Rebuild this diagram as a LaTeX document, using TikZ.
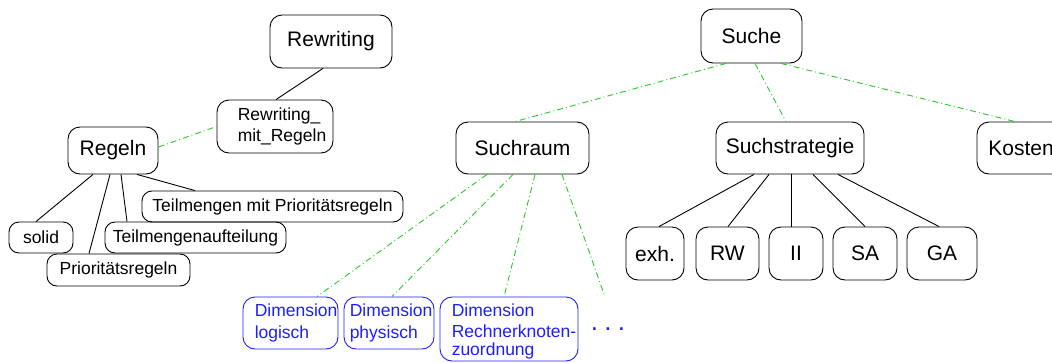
\documentclass[tikz,border=0pt]{standalone}
\usepackage{fontspec}
\setmainfont{Liberation Sans}
\definecolor{linkgreen}{RGB}{40,200,40}
\definecolor{dimblue}{RGB}{30,30,255}
\begin{document}
\begin{tikzpicture}[x=1pt,y=-1pt,
  tbox/.style={draw=black, line width=0.9pt, rounded corners=12pt, inner sep=0pt},
  smallbox/.style={tbox, rounded corners=10pt},
  dimbox/.style={tbox, draw=dimblue},
  bigtext/.style={font=\fontsize{21pt}{25pt}\selectfont},
  smalltext/.style={font=\fontsize{17.5pt}{21.5pt}\selectfont, align=left, inner sep=0pt},
  dimtext/.style={smalltext, text=dimblue},
  solidlink/.style={draw=black, line width=0.9pt},
  dashlink/.style={draw=linkgreen, line width=0.9pt, dash pattern=on 6pt off 3pt on 1pt off 3pt},
]
\useasboundingbox (0,0) rectangle (1052,362);
\clip (0,0) rectangle (1052,362);

% --- Rewriting branch ---
\node[tbox, bigtext, minimum width=122pt, minimum height=53pt] (rew) at (331,41.5) {Rewriting};
\node[tbox, minimum width=116pt, minimum height=53pt] (rmr) at (275,126.5) {};
\node[smalltext, anchor=west] (rmrtext) at ([xshift=21pt]rmr.west) {Rewriting\_\\mit\_Regeln};
\node[tbox, bigtext, minimum width=90pt, minimum height=47pt] (regeln) at (113,150.5) {Regeln};

\node[smallbox, smalltext, minimum width=261pt, minimum height=31pt] (tmp) at (272.5,206.5) {Teilmengen mit Prioritätsregeln};
\node[smallbox, smalltext, minimum width=64pt, minimum height=31pt] (nsolid) at (41,237.5) {solid};
\node[smallbox, smalltext, minimum width=181pt, minimum height=31pt] (tma) at (195.5,237.5) {Teilmengenaufteilung};
\node[smallbox, smalltext, minimum width=143pt, minimum height=32pt] (prio) at (118.5,270) {Prioritätsregeln};

\draw[solidlink] ([xshift=-8pt]rew.south) -- ([xshift=1pt]rmr.north);
\draw[dashlink] ([yshift=3.5pt]regeln.east) -- (rmr.west);
\draw[solidlink] ([xshift=-20pt]regeln.south) -- ([xshift=-5pt]nsolid.north);
\draw[solidlink] ([xshift=-3pt]regeln.south) -- ([xshift=-29.5pt]prio.north);
\draw[solidlink] ([xshift=8pt]regeln.south) -- ([xshift=-68.5pt]tma.north);
\draw[solidlink] ([xshift=24pt]regeln.south) -- ([xshift=-77.5pt]tmp.north);

% --- Suche branch ---
\node[tbox, bigtext, minimum width=101pt, minimum height=54pt] (suche) at (751.5,36) {Suche};
\node[tbox, bigtext, minimum width=133pt, minimum height=52pt] (sraum) at (522.5,148) {Suchraum};
\node[tbox, bigtext, minimum width=148pt, minimum height=52pt] (sstrat) at (790,148) {Suchstrategie};
\node[tbox, bigtext, minimum width=88pt, minimum height=52pt] (kosten) at (1021,148) {Kosten};

\draw[dashlink] ([xshift=-25.5pt]suche.south) -- ([xshift=-7.5pt]sraum.north);
\draw[dashlink] ([xshift=3.5pt]suche.south) -- ([xshift=-4pt]sstrat.north);
\draw[dashlink] ([xshift=29.5pt]suche.south) -- ([xshift=-6pt]kosten.north);

% dimensions of the search space
\node[dimbox, minimum width=95pt, minimum height=52pt] (dlog) at (290.5,323) {};
\node[dimtext, anchor=west] (dlogtext) at ([xshift=12pt]dlog.west) {Dimension\\logisch};
\node[dimbox, minimum width=90pt, minimum height=52pt] (dphys) at (389,323) {};
\node[dimtext, anchor=west] (dphystext) at ([xshift=6pt]dphys.west) {Dimension\\physisch};
\node[dimbox, minimum width=138pt, minimum height=64pt] (drech) at (509,329) {};
\node[dimtext, anchor=west] (drechtext) at ([xshift=12pt,yshift=-2pt]drech.west) {Dimension\\Rechnerknoten-\\[-4pt]zuordnung};
\node[text=dimblue, font=\fontsize{26pt}{30pt}\selectfont, inner sep=0pt, anchor=base] (dots) at (608,330) {.\hspace{6.3pt}.\hspace{6.3pt}.};
\coordinate (dotsend) at (605,297);

\draw[dashlink] ([xshift=-35.5pt]sraum.south) -- ([xshift=26.5pt]dlog.north);
\draw[dashlink] ([xshift=-9.5pt]sraum.south) -- ([xshift=3pt]dphys.north);
\draw[dashlink] ([xshift=12.5pt]sraum.south) -- ([xshift=-5pt]drech.north);
\draw[dashlink] ([xshift=39.5pt]sraum.south) -- (dotsend);

% search strategies
\node[tbox, bigtext, minimum width=58pt, minimum height=53pt] (exh) at (655,253.5) {exh.};
\node[tbox, bigtext, minimum width=63pt, minimum height=53pt] (rw) at (727.5,253.5) {RW};
\node[tbox, bigtext, minimum width=54pt, minimum height=53pt] (ii) at (796,253.5) {II};
\node[tbox, bigtext, minimum width=64pt, minimum height=53pt] (sa) at (865,253.5) {SA};
\node[tbox, bigtext, minimum width=70pt, minimum height=53pt] (ga) at (942,253.5) {GA};

\draw[solidlink] ([xshift=-36pt]sstrat.south) -- ([xshift=4pt]exh.north);
\draw[solidlink] ([xshift=-21pt]sstrat.south) -- ([xshift=0.5pt]rw.north);
\draw[solidlink] ([xshift=1pt]sstrat.south) -- ([xshift=-5pt]ii.north);
\draw[solidlink] ([xshift=23pt]sstrat.south) -- (sa.north);
\draw[solidlink] ([xshift=48pt]sstrat.south) -- ([xshift=-3pt]ga.north);
\end{tikzpicture}
\end{document}
